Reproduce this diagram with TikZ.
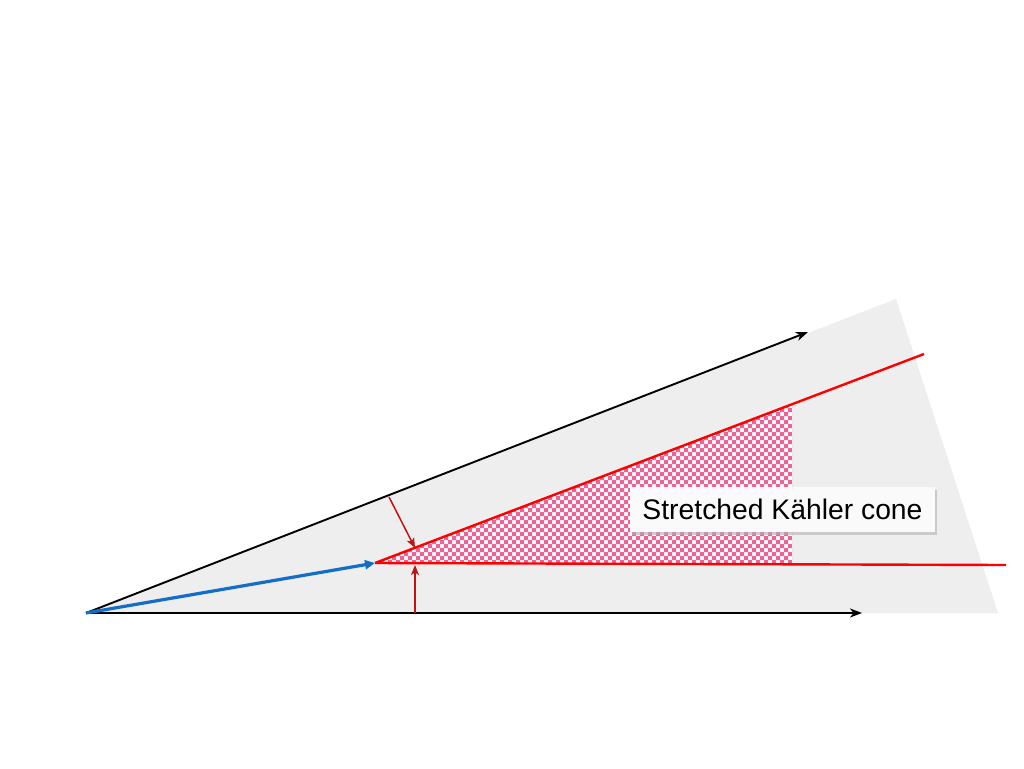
\documentclass[tikz,border=0pt]{standalone}
\usepackage{fontspec}
\setmainfont{Liberation Sans}
\usetikzlibrary{arrows.meta,shadows}
\definecolor{conegray}{RGB}{238,238,238}
\definecolor{checkpink}{RGB}{236,100,150}
\definecolor{darkred}{RGB}{190,20,20}
\definecolor{axisblue}{RGB}{20,110,200}
\definecolor{boxwhite}{RGB}{250,250,250}
\tikzset{
  axisline/.style={draw=black,line width=1.9pt,-{Stealth[length=12pt,width=9pt,inset=3.5pt]}},
  redline/.style={draw=red,line width=2.4pt},
  bluearrow/.style={draw=axisblue,line width=3.2pt,-{Triangle[length=10pt,width=9pt]}},
  gaparrow/.style={draw=darkred,line width=1.5pt,-{Stealth[length=10pt,width=8pt,inset=2.5pt]}},
  checkcell/.style={fill=checkpink},
  lbl/.style={fill=boxwhite,draw=none,font=\fontsize{28.3}{32}\selectfont,minimum width=305pt,minimum height=45pt,inner sep=0pt,
    drop shadow={shadow xshift=1.5pt,shadow yshift=-2.5pt,fill=black!30,opacity=0.6}}
}
\begin{document}
\begin{tikzpicture}[x=1pt,y=-1pt]
\useasboundingbox (0,0) rectangle (1024,768);
\fill[white] (0,0) rectangle (1024,768);
\coordinate (O) at (86,613);
\coordinate (G1) at (896,299);
\coordinate (G2) at (998,613);
\coordinate (X) at (862,613);
\coordinate (Y) at (808,332);
\coordinate (A) at (375,563);
\coordinate (RU) at (924,354);
\coordinate (RL) at (1006,565);
\coordinate (CT) at (792,404.3);
\coordinate (CB) at (792,564.3);
\coordinate (P1) at (389,497);
\coordinate (Q1) at (415,548);
\coordinate (P2) at (415,613);
\coordinate (Q2) at (415,565);
% gray cone
\fill[conegray] (O) -- (G1) -- (G2) -- cycle;
% checker region
\fill[white] (A) -- (CT) -- (CB) -- cycle;
\begin{scope}
\clip (A) -- (CT) -- (CB) -- cycle;
\foreach \x in {376,384,...,792}{
  \foreach \y in {404,412,...,564}{
    \fill[checkcell] (\x,\y) rectangle ++(4,4) (\x+4,\y+4) rectangle ++(4,4);
  }
}
\end{scope}
% red cone
\draw[redline] (A) -- (RU);
\draw[redline] (A) -- (RL);
% axes
\draw[axisline] (O) -- (X);
\draw[axisline] (O) -- (Y);
% blue vector
\draw[bluearrow] (O) -- (A);
% gap arrows
\draw[gaparrow] (P1) -- (Q1);
\draw[gaparrow] (P2) -- (Q2);
% label
\node[lbl] (label) at (782.5,509.5) {Stretched Kähler cone};
\end{tikzpicture}
\end{document}
